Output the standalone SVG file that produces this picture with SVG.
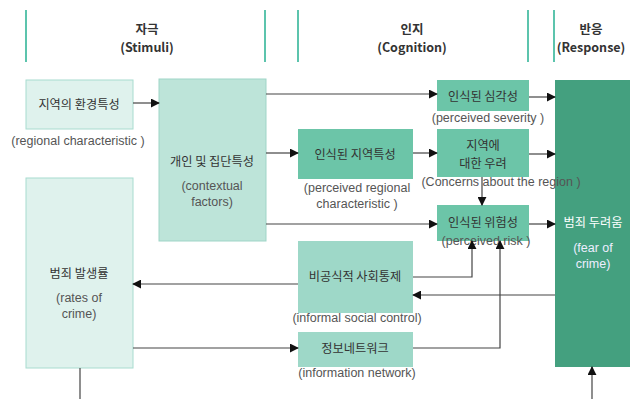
<svg xmlns="http://www.w3.org/2000/svg" width="630" height="399" viewBox="0 0 630 399">
<style>
text{font-family:"Noto Sans CJK KR","Noto Sans",sans-serif;text-anchor:middle}
.h{font-size:12.5px;font-weight:bold;fill:#333}
.t{font-size:12.2px;fill:#333}
.s{font-family:"Liberation Sans","Noto Sans CJK KR",sans-serif;font-size:12.5px;fill:#555}
.w{font-size:12.2px;fill:#fff}
.ws{font-family:"Liberation Sans","Noto Sans CJK KR",sans-serif;font-size:12.5px;fill:#eef}
.bar{stroke:#5cc4ad;stroke-width:2}
.l1{fill:#dff2ed;stroke:#a8dccf;stroke-width:1}
.l2{fill:#bde4d9;stroke:#9fd5c7;stroke-width:1}
.m{fill:#6cc5a8}
.m2{fill:#9ed8c8}
.d{fill:#44a07f}
.c{fill:none;stroke:#444;stroke-width:1.2}
</style>
<defs>
<marker id="a" viewBox="0 0 10 10" refX="9" refY="5" markerWidth="9" markerHeight="9" markerUnits="userSpaceOnUse" orient="auto"><path d="M0,0L10,5L0,10z" fill="#111"/></marker>
</defs>
<rect width="630" height="399" fill="#fff"/>
<g id="headers">
<line class="bar" x1="26" y1="10" x2="26" y2="62"/>
<line class="bar" x1="265" y1="10" x2="265" y2="62"/>
<line class="bar" x1="298" y1="10" x2="298" y2="62"/>
<line class="bar" x1="528" y1="10" x2="528" y2="62"/>
<line class="bar" x1="554" y1="10" x2="554" y2="62"/>
<text class="h" x="147" y="34">자극</text>
<text class="h" x="147" y="52">(Stimuli)</text>
<text class="h" x="412" y="34">인지</text>
<text class="h" x="412" y="52">(Cognition)</text>
<text class="h" x="591" y="34">반응</text>
<text class="h" x="591" y="52">(Response)</text>
</g>
<g id="n10"><rect class="d" x="555" y="80" width="75" height="287"/><text class="w" x="593" y="227">범죄 두려움</text><text class="ws" x="593" y="252">(fear of</text><text class="ws" x="593" y="268">crime)</text></g>
<g id="n1"><rect class="l1" x="26" y="80" width="107" height="49"/><text class="t" x="79" y="109">지역의 환경특성</text><text class="s" x="78" y="145">(regional characteristic )</text></g>
<g id="n2"><rect class="l2" x="159" y="79" width="107" height="162"/><text class="t" x="212" y="166">개인 및 집단특성</text><text class="s" x="212" y="190">(contextual</text><text class="s" x="212" y="206">factors)</text></g>
<g id="n3"><rect class="l1" x="26" y="178" width="107" height="190"/><text class="t" x="79" y="278">범죄 발생률</text><text class="s" x="79" y="302">(rates of</text><text class="s" x="79" y="318">crime)</text></g>
<g id="n4"><rect class="m" x="437" y="80" width="92" height="31"/><text class="t" x="483" y="101">인식된 심각성</text><text class="s" x="488" y="122">(perceived severity )</text></g>
<g id="n5"><rect class="m" x="298" y="129" width="115" height="50"/><text class="t" x="355" y="159">인식된 지역특성</text><text class="s" x="357" y="192">(perceived regional</text><text class="s" x="357" y="208">characteristic )</text></g>
<g id="n6"><rect class="m" x="437" y="129" width="92" height="48"/><text class="t" x="483" y="150">지역에</text><text class="t" x="483" y="168">대한 우려</text><text class="s" x="501" y="186">(Concerns about the region )</text></g>
<g id="n7"><rect class="m" x="437" y="205" width="92" height="36"/><text class="t" x="483" y="227">인식된 위험성</text><text class="s" x="486" y="245">(perceived risk )</text></g>
<g id="n8"><rect class="m2" x="298" y="241" width="115" height="72"/><text class="t" x="355" y="281">비공식적 사회통제</text><text class="s" x="357" y="322">(informal social control)</text></g>
<g id="n9"><rect class="m2" x="298" y="332" width="115" height="35"/><text class="t" x="355" y="353">정보네트워크</text><text class="s" x="357" y="377">(information network)</text></g>
<g id="connectors">
<path class="c" d="M133,103H159" marker-end="url(#a)"/>
<path class="c" d="M266,94H437" marker-end="url(#a)"/>
<path class="c" d="M266,153H298" marker-end="url(#a)"/>
<path class="c" d="M266,224H437" marker-end="url(#a)"/>
<path class="c" d="M413,153H437" marker-end="url(#a)"/>
<path class="c" d="M529,97H555" marker-end="url(#a)"/>
<path class="c" d="M529,154H555" marker-end="url(#a)"/>
<path class="c" d="M529,224H555" marker-end="url(#a)"/>
<path class="c" d="M482,177V205" marker-end="url(#a)"/>
<path class="c" d="M413,277H472V241" marker-end="url(#a)"/>
<path class="c" d="M413,348H500V241" marker-end="url(#a)"/>
<path class="c" d="M555,295H413" marker-end="url(#a)"/>
<path class="c" d="M298,284H133" marker-end="url(#a)"/>
<path class="c" d="M133,348H298" marker-end="url(#a)"/>
<path class="c" d="M80,368V399"/>
<path class="c" d="M592,399V367" marker-end="url(#a)"/>
</g>
</svg>
